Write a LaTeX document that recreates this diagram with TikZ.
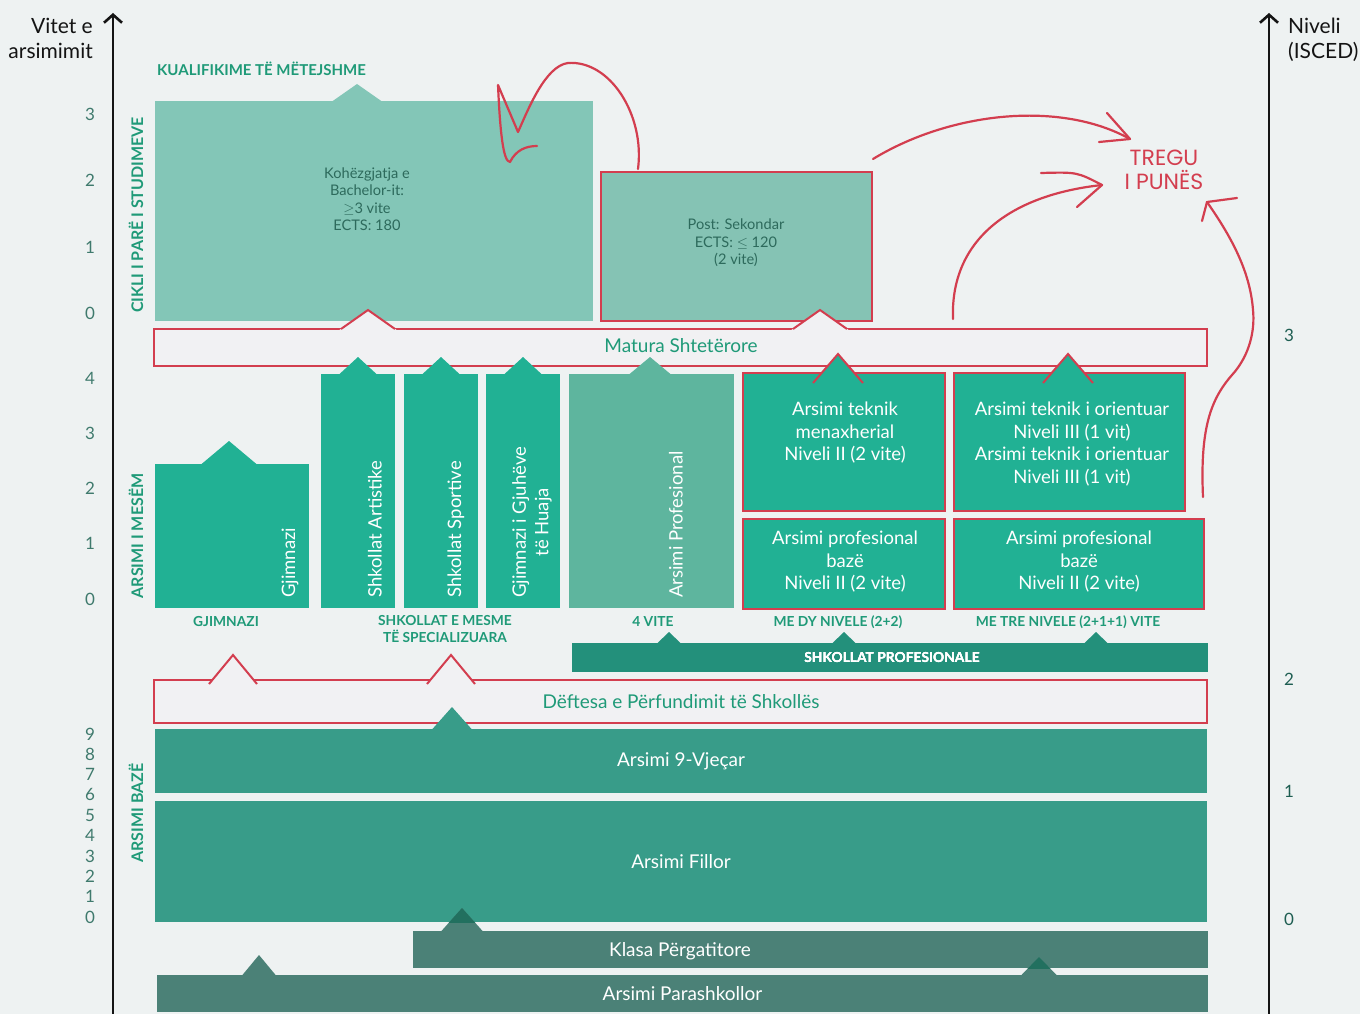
\documentclass[tikz,border=0pt]{standalone}
\usepackage{fontspec}
\setmainfont{Lato}
\newfontfamily\handfont{Poppins}
\usetikzlibrary{arrows.meta, positioning, calc}
\definecolor{eduBg}{HTML}{EEF2F2}
\definecolor{eduPale}{HTML}{83C6B7}
\definecolor{eduPost}{HTML}{85C3B4}
\definecolor{eduRed}{HTML}{D33E4F}
\definecolor{eduTeal}{HTML}{21B194}
\definecolor{eduProf}{HTML}{5EB59E}
\definecolor{eduBase}{HTML}{389C89}
\definecolor{eduBar}{HTML}{23907B}
\definecolor{eduPre}{HTML}{4B8177}
\definecolor{eduDeep}{HTML}{22705F}
\definecolor{eduLabel}{HTML}{1F9A78}
\definecolor{eduNum}{HTML}{3F7A6D}
\definecolor{eduNumDark}{HTML}{1E5E52}
\definecolor{eduInk}{HTML}{2D6A5C}
\definecolor{eduStrip}{HTML}{F1F1F3}
\definecolor{eduBlack}{HTML}{141414}

% triangle pointing up: x, base y, half width, height, colour
\newcommand{\upnotch}[5]{\fill[#5] (#1-#3,#2) -- (#1,#2-#4) -- (#1+#3,#2) -- cycle;}
% open red chevron: x, base y, half width, height
\newcommand{\redchev}[4]{\draw[draw=eduRed, line width=2pt] (#1-#3,#2) -- (#1,#2-#4) -- (#1+#3,#2);}

\begin{document}
\begin{tikzpicture}[x=1pt, y=-1pt,
    blk/.style={anchor=north west, inner sep=0pt, outer sep=0pt},
    redblk/.style={blk, draw=eduRed, line width=2pt},
    boxtxt/.style={font=\fontsize{18.5}{22.5}\selectfont, text=white, align=center, inner sep=0pt},
    paletxt/.style={font=\fontsize{14.6}{17.5}\selectfont, text=eduInk, align=center, inner sep=0pt},
    bandtxt/.style={font=\fontsize{19}{22}\selectfont, inner sep=0pt},
    caplab/.style={font=\bfseries\fontsize{13.8}{17}\selectfont, text=eduLabel, align=center, inner sep=0pt},
    seclab/.style={font=\bfseries\fontsize{16}{18}\selectfont, text=eduLabel, rotate=90, inner sep=0pt},
    vtxt/.style={boxtxt, rotate=90, anchor=west},
    num/.style={font=\fontsize{17}{17}\selectfont, text=eduNum, inner sep=0pt},
    axislab/.style={font=\fontsize{21}{25}\selectfont, text=eduBlack, inner sep=0pt},
    axis/.style={line width=2.6pt, draw=eduBlack, -{Straight Barb[length=8pt, width=18pt]}},
    hand/.style={draw=eduRed, line width=2.2pt, line cap=round, line join=round}
  ]
  \path[use as bounding box, fill=eduBg] (0,0) rectangle (1360,1014);

  % axes
  \coordinate (lbot) at (113,1014);
  \coordinate (ltop) at (113,13);
  \coordinate (rbot) at (1269,1014);
  \coordinate (rtop) at (1269,13);
  \draw[axis] (lbot) -- (ltop);
  \draw[axis] (rbot) -- (rtop);
  \node[axislab, anchor=north east, align=right] (years) at (93,18) {Vitet e\\arsimimit};
  \node[axislab, anchor=north west, align=left] (isced) at (1288,18) {Niveli\\(ISCED)};

  \foreach \n/\y in {3/114,2/180,1/247,0/313,4/378,3/433,2/488,1/543,0/599}
    \node[num] at (90,\y) {\n};
  \foreach \n in {0,...,9}
    \node[num] at (90,{917-20.35*\n}) {\n};
  \foreach \n/\y in {3/335,2/679,1/791,0/919}
    \node[num, text=eduNumDark] at (1289,\y) {\n};

  \node[seclab] (cycle) at (136,215) {CIKLI I PARË I STUDIMEVE};
  \node[seclab] (upper) at (136,536) {ARSIMI I MESËM};
  \node[seclab] (lower) at (136,813) {ARSIMI BAZË};

  % tertiary
  \node[caplab, anchor=west, font=\bfseries\fontsize{15}{17}\selectfont] (further) at (157,69) {KUALIFIKIME TË MËTEJSHME};
  \node[blk, fill=eduPale, minimum width=438pt, minimum height=220pt] (bach) at (155,101) {};
  \upnotch{357}{101.5}{25}{17.5}{eduPale}
  \node[paletxt] (bachtxt) at (367,199) {Kohëzgjatja e\\Bachelor-it:\\$\geq$3 vite\\ECTS: 180};
  \node[redblk, fill=eduPost, minimum width=271pt, minimum height=149pt] (post) at (601,172) {};
  \node[paletxt] (posttxt) at (736,243) {Post: Sekondar\\ECTS: $\leq$ 120\\(2 vite)};

  % matura
  \node[redblk, fill=eduStrip, minimum width=1053pt, minimum height=37pt] (matura) at (154,329) {};
  \foreach \x in {368,820} {
    \upnotch{\x}{331}{30}{21}{eduStrip}
    \redchev{\x}{329}{27}{19}
  }
  \node[bandtxt, text=eduLabel] (maturatxt) at (681,346) {Matura Shtetërore};

  % upper secondary
  \node[blk, fill=eduTeal, minimum width=154pt, minimum height=144pt] (gjim) at (155,464) {};
  \upnotch{229}{464.5}{28}{23.5}{eduTeal}
  \node[vtxt] at (290,598) {Gjimnazi};
  \foreach \nm/\x/\tx/\lbl in {art/321/375/{Shkollat Artistike}, sport/404/456/{Shkollat Sportive}, lang/486/532/{Gjimnazi i Gjuhëve\\të Huaja}} {
    \node[blk, fill=eduTeal, minimum width=74pt, minimum height=234pt] (\nm) at (\x,374) {};
    \upnotch{\x+37}{374.5}{19}{17.5}{eduTeal}
    \node[vtxt] at (\tx,598) {\lbl};
  }
  \node[blk, fill=eduProf, minimum width=165pt, minimum height=234pt] (prof) at (569,374) {};
  \upnotch{650}{374.5}{21}{17.5}{eduProf}
  \node[vtxt] at (676,598) {Arsimi Profesional};

  \node[redblk, fill=eduTeal, minimum width=202pt, minimum height=138pt] (tekm) at (743,373) {};
  \node[redblk, fill=eduTeal, minimum width=231pt, minimum height=138pt] (teko) at (954,373) {};
  \foreach \x in {838,1068} {
    \upnotch{\x}{383}{25}{29}{eduTeal}
    \redchev{\x}{383}{25}{29}
  }
  \node[boxtxt] at (845,433) {Arsimi teknik\\menaxherial\\Niveli II (2 vite)};
  \node[boxtxt] at (1072,444) {Arsimi teknik i orientuar\\Niveli III (1 vit)\\Arsimi teknik i orientuar\\Niveli III (1 vit)};
  \node[redblk, fill=eduTeal, minimum width=202pt, minimum height=90pt] (bazm) at (743,519) {};
  \node[redblk, fill=eduTeal, minimum width=250pt, minimum height=90pt] (bazo) at (954,519) {};
  \node[boxtxt] at (845,562) {Arsimi profesional\\bazë\\Niveli II (2 vite)};
  \node[boxtxt] at (1079,562) {Arsimi profesional\\bazë\\Niveli II (2 vite)};

  \node[caplab] at (226,622) {GJIMNAZI};
  \node[caplab, anchor=north] at (445,615) {SHKOLLAT E MESME\\TË SPECIALIZUARA};
  \node[caplab] at (653,622) {4 VITE};
  \node[caplab] at (838,622) {ME DY NIVELE (2+2)};
  \node[caplab] at (1068,622) {ME TRE NIVELE (2+1+1) VITE};

  \node[blk, fill=eduBar, minimum width=636pt, minimum height=29pt] (profbar) at (572,643) {};
  \foreach \x in {669,844,1096}
    \upnotch{\x}{643.5}{12}{11.5}{eduBar}
  \node[caplab, text=white] at (892,658) {SHKOLLAT PROFESIONALE};

  % basic education
  \node[redblk, fill=eduStrip, minimum width=1053pt, minimum height=43pt] (deft) at (154,680) {};
  \foreach \x in {233,451} {
    \upnotch{\x}{684}{24}{29}{eduStrip}
    \redchev{\x}{684}{24}{29}
  }
  \node[bandtxt, text=eduLabel] at (681,702) {Dëftesa e Përfundimit të Shkollës};
  \node[blk, bandtxt, text=white, fill=eduBase, minimum width=1052pt, minimum height=64pt] (nine) at (155,729) {Arsimi 9-Vjeçar};
  \upnotch{452}{729.5}{20}{22.5}{eduBase}
  \node[blk, bandtxt, text=white, fill=eduBase, minimum width=1052pt, minimum height=121pt] (fillor) at (155,801) {Arsimi Fillor};

  \node[blk, fill=eduPre, minimum width=795pt, minimum height=37pt] (klasa) at (413,931) {};
  \node[bandtxt, text=white] at (680,951) {Klasa Përgatitore};
  \upnotch{462}{931.5}{21}{23.5}{eduPre}
  \begin{scope}
    \clip (fillor.north west) rectangle (fillor.south east);
    \upnotch{462}{931.5}{21}{23.5}{eduDeep}
  \end{scope}
  \node[blk, bandtxt, text=white, fill=eduPre, minimum width=1051pt, minimum height=37pt] (parash) at (157,975) {Arsimi Parashkollor};
  \upnotch{259}{975.5}{17}{20.5}{eduPre}
  \upnotch{1039}{975.5}{18}{18.5}{eduPre}
  \begin{scope}
    \clip (klasa.north west) rectangle (klasa.south east);
    \upnotch{1039}{975.5}{18}{18.5}{eduDeep}
  \end{scope}

  % labour market
  \node[font=\handfont\fontsize{22}{24}\selectfont, text=eduRed, align=center, inner sep=0pt] (tregu) at (1164,170) {TREGU\\I PUNËS};
  \coordinate (tipB) at (1130,139);
  \coordinate (tipC) at (1102,185);
  \coordinate (tipD) at (1207,202);
  \draw[hand] ($(post.north west)+(37,-3)$) .. controls (645,115) and (610,60) .. (568,63)
    .. controls (545,66) and (528,110) .. (518,132) -- (498,85)
    .. controls (500,130) and (503,162) .. (510,162) .. controls (516,150) and (526,146) .. (537,146);
  \draw[hand] ($(post.north east)+(1,-13)$) .. controls (950,112) and (1060,100) .. (tipB);
  \draw[hand] ($(tipB)+(-23,-26)$) -- (tipB) -- ($(tipB)+(-31,3)$);
  \draw[hand] ($(matura.north west)+(799,-10)$) .. controls (950,240) and (1010,195) .. (tipC);
  \draw[hand] ($(tipC)+(-61,-12)$) .. controls ($(tipC)+(-25,-13)$) .. (tipC) -- ($(tipC)+(-25,22)$);
  \draw[hand] ($(bazo.north east)+(-1,-22)$) .. controls (1200,430) and (1210,400) .. (1232,375)
    .. controls (1250,355) and (1255,330) .. (1253,310) .. controls (1250,270) and (1230,235) .. (tipD);
  \draw[hand] ($(tipD)+(30,-4)$) -- (tipD) -- ($(tipD)+(-5,19)$);
\end{tikzpicture}
\end{document}
